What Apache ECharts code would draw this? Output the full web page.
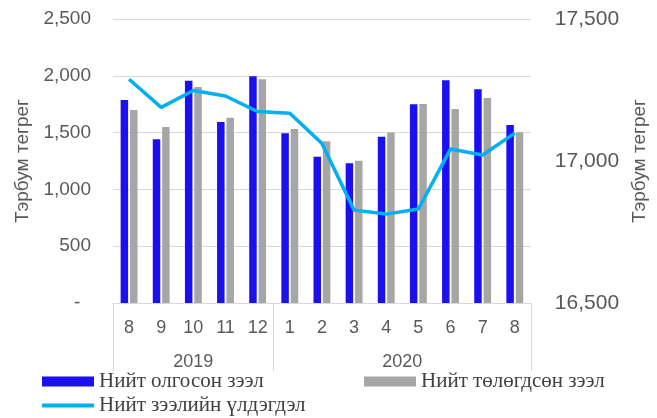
<!DOCTYPE html>
<html>
<head>
<meta charset="utf-8">
<script src="https://cdn.jsdelivr.net/npm/echarts@6/dist/echarts.min.js"></script>
<style>
html,body{margin:0;padding:0;background:#fff;}
#chart{width:657px;height:418px;}
</style>
</head>
<body>
<div id="chart"></div>
<script>
var months = ['8','9','10','11','12','1','2','3','4','5','6','7','8'];
var years = ['2019','2020'];
var yearSpans = [5, 8];
var issued = [1787,1441,1957,1593,1996,1494,1288,1230,1464,1749,1960,1881,1567];
var repaid = [1699,1549,1901,1631,1969,1532,1423,1253,1500,1752,1708,1805,1503];
var balance = [17288,17189,17248,17229,17174,17168,17062,16827,16813,16831,17042,17021,17098];
var seriesNames = ['Нийт олгосон зээл','Нийт төлөгдсөн зээл','Нийт зээлийн үлдэгдэл'];
var axisTitle = 'Тэрбум тегрег';

var bounds = [0], centers = [];
var acc = 0;
yearSpans.forEach(function(s){ centers.push(acc + s/2); acc += s; bounds.push(acc); });

var chart = echarts.init(document.getElementById('chart'));
var lblColor = '#595959';
var gridColor = '#d9d9d9';
var legendText = {fontFamily:'Liberation Serif', fontSize:21, color:'#404040'};

chart.setOption({
  animation:false,
  backgroundColor:'#fff',
  grid:{left:113, right:118, top:19, bottom:115, containLabel:false},
  legend:[
    {data:[seriesNames[0]], left:42, top:371, itemWidth:52, itemHeight:10, icon:'rect', textStyle:legendText, padding:0},
    {data:[seriesNames[1]], left:364, top:371, itemWidth:52, itemHeight:10, icon:'rect', textStyle:legendText, padding:0},
    {data:[{name:seriesNames[2], icon:'roundRect'}], left:42, top:395, itemWidth:52, itemHeight:4, textStyle:legendText, padding:0}
  ],
  xAxis:[
    {type:'category', data:months, position:'bottom',
     axisLine:{show:true, lineStyle:{color:gridColor, width:1}},
     axisTick:{show:false},
     axisLabel:{color:lblColor, fontFamily:'Liberation Sans', fontSize:18, margin:16, interval:0}
    },
    {type:'value', min:0, max:acc, position:'bottom',
     axisLine:{show:false}, splitLine:{show:false},
     axisTick:{show:true, customValues:bounds, length:68, inside:false, lineStyle:{color:gridColor, width:1}},
     axisLabel:{show:true, customValues:centers, margin:50, color:lblColor, fontFamily:'Liberation Sans', fontSize:18,
       formatter:function(v){ var i = centers.indexOf(v); return i>=0 ? years[i] : ''; }}
    }
  ],
  yAxis:[
    {type:'value', min:0, max:2500, interval:500, position:'left',
     name:axisTitle, nameLocation:'middle', nameGap:73, nameRotate:90,
     nameTextStyle:{color:lblColor, fontFamily:'Liberation Sans', fontSize:19},
     axisLine:{show:false}, axisTick:{show:false},
     splitLine:{show:true, lineStyle:{color:gridColor, width:1}},
     axisLabel:{color:lblColor, fontFamily:'Liberation Sans', fontSize:19, margin:22,
       formatter:function(v){ return v===0 ? '-  ' : v.toLocaleString('en-US'); }}
    },
    {type:'value', min:16500, max:17500, interval:500, position:'right',
     name:axisTitle, nameLocation:'middle', nameGap:92, nameRotate:90,
     nameTextStyle:{color:lblColor, fontFamily:'Liberation Sans', fontSize:19},
     axisLine:{show:false}, axisTick:{show:false}, splitLine:{show:false},
     axisLabel:{color:lblColor, fontFamily:'Liberation Sans', fontSize:21, margin:24,
       formatter:function(v){ return v.toLocaleString('en-US'); }}
    }
  ],
  series:[
    {name:seriesNames[0], type:'bar', data:issued, xAxisIndex:0, yAxisIndex:0,
     barWidth:7.5, barGap:'25%', itemStyle:{color:'#1c0ff0'}},
    {name:seriesNames[1], type:'bar', data:repaid, xAxisIndex:0, yAxisIndex:0,
     barWidth:7.5, barGap:'25%', itemStyle:{color:'#a6a6a6'}},
    {name:seriesNames[2], type:'line', data:balance, xAxisIndex:0, yAxisIndex:1,
     symbol:'none', lineStyle:{color:'#00b0f0', width:3.5}, itemStyle:{color:'#00b0f0'}}
  ]
});
</script>
</body>
</html>
